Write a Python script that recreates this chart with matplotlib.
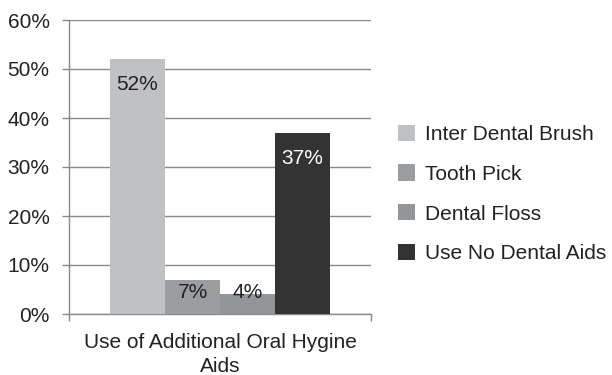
import numpy as np
import matplotlib.pyplot as plt
from matplotlib.ticker import PercentFormatter

plt.rcParams['font.family'] = ['Liberation Sans', 'DejaVu Sans']

category = "Use of Additional Oral Hygine\nAids"
series = ["Inter Dental Brush", "Tooth Pick", "Dental Floss", "Use No Dental Aids"]
values = [52, 7, 4, 37]
colors = ["#c0c1c3", "#9c9d9f", "#949597", "#333333"]
label_colors = ["#222222", "#222222", "#222222", "#ffffff"]

fig = plt.figure(figsize=(6.12, 3.75), dpi=100)
ax = fig.add_axes([69 / 612, 1 - 314 / 375, 302 / 612, 294 / 375])

width = 0.1821
x0 = -1.5 * width
for i, (name, v) in enumerate(zip(series, values)):
    x = x0 + i * width
    ax.bar(x, v, width=width, color=colors[i], label=name, zorder=3)
    ly = max(v - 5.2, 4.3)
    ax.text(x, ly, f"{v}%", ha="center", va="center", fontsize=15,
            color=label_colors[i], zorder=4)

ax.set_xlim(-0.5, 0.5)
ax.set_ylim(0, 60)
ax.set_yticks(np.arange(0, 61, 10))
ax.yaxis.set_major_formatter(PercentFormatter(decimals=0))
ax.grid(axis="y", color="#8a8a8a", linewidth=1, zorder=0)
ax.set_axisbelow(True)

ax.set_xticks([-0.5, 0.5])
ax.set_xticklabels(["", ""])
ax.tick_params(axis="x", length=5, color="#8a8a8a", width=1)
ax.tick_params(axis="y", length=5, color="#8a8a8a", width=1, labelsize=15,
               labelcolor="#222222", pad=9)
ax.text(0, -3.8, category, ha="center", va="top", fontsize=15,
        color="#222222", linespacing=1.38)

for s in ["top", "right"]:
    ax.spines[s].set_visible(False)
for s in ["left", "bottom"]:
    ax.spines[s].set_color("#8a8a8a")
    ax.spines[s].set_linewidth(1)

leg = fig.legend(loc="center left", bbox_to_anchor=(398 / 612, 1 - 194 / 375),
                 frameon=False, fontsize=15, handlelength=0.82, handleheight=0.82,
                 handletextpad=0.48, labelspacing=0.98, borderpad=0,
                 borderaxespad=0, labelcolor="#222222")

fig.savefig("out.png", dpi=100)
